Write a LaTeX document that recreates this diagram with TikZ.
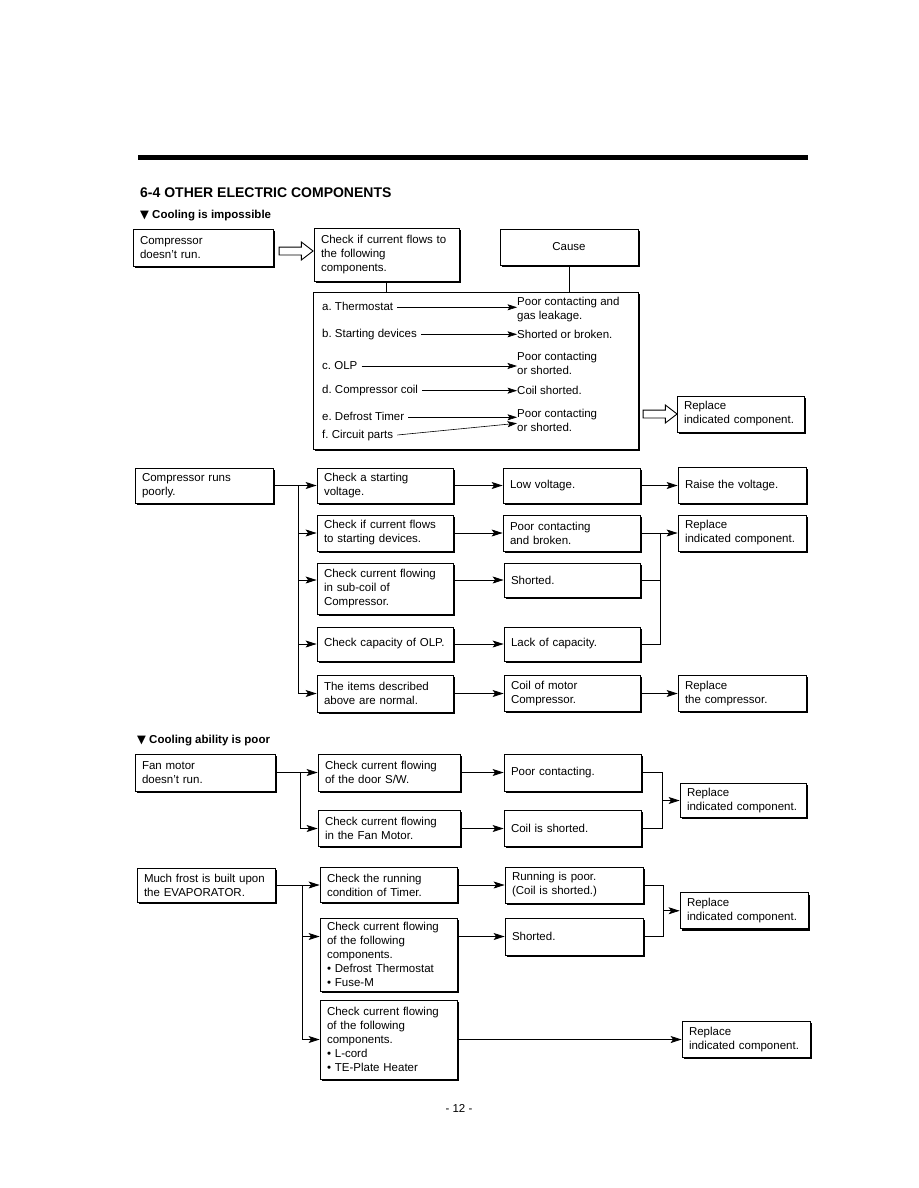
\documentclass[tikz,border=0pt]{standalone}
\usepackage{fontspec}
\setmainfont{Liberation Sans}
\newfontfamily\trifont{DejaVu Sans}
\usetikzlibrary{arrows.meta,calc,positioning,shapes.arrows,shadows}
\frenchspacing
\tikzset{
  cbox/.style={draw, line width=0.8pt, fill=white, drop shadow={shadow xshift=1.8pt, shadow yshift=-1.8pt, fill=black, opacity=1}, align=left, inner xsep=7pt, inner ysep=2pt, font=\fontsize{11.5}{14}\selectfont},
  hollow/.style={single arrow, draw, line width=0.9pt, fill=white, minimum height=34pt, inner sep=3.5pt, single arrow head extend=5pt, single arrow tip angle=75},
  flow/.style={-{Stealth[length=11pt,width=7pt,inset=2.5pt]}, line width=0.8pt},
  link/.style={line width=0.8pt},
  lead/.style={-{Stealth[length=9.5pt,width=6pt,inset=2pt]}, line width=0.6pt},
  entry/.style={inner sep=0pt, text height=8.5pt, text depth=2.5pt, font=\fontsize{11.5}{14}\selectfont, align=left},
  outcome/.style={inner sep=0pt, anchor=west, font=\fontsize{11.5}{14}\selectfont, align=left},
  head/.style={inner sep=0pt, anchor=base west, font=\bfseries\fontsize{11.5}{14}\selectfont}
}
\begin{document}
\begin{tikzpicture}[x=1pt, y=-1pt]
  \useasboundingbox (0,0) rectangle (918,1188);
  \draw[line width=5pt] (138,157.5) -- (808,157.5);
  \node[inner sep=0pt, anchor=base west, font=\bfseries\fontsize{14}{16}\selectfont] (title) at (140,197) {6-4 OTHER ELECTRIC COMPONENTS};
  \node[head] (hd1) at (140,218) {{\trifont ▼} Cooling is impossible};

  \node[cbox, text width=126pt, minimum height=37pt] (stop) at (203,247.5) {Compressor\\doesn't run.};
  \node[cbox, text width=131pt, minimum height=53pt] (check) at (386.5,254.5) {Check if current flows to\\the following\\components.};
  \node[cbox, text width=124pt, minimum height=36pt, align=center] (cause) at (569,247) {Cause};
  \node[cbox, minimum width=325pt, minimum height=157pt] (parts) at (475.5,370.5) {};
  \node[cbox, text width=113pt, minimum height=36pt] (fix1) at (740.5,414) {Replace\\indicated component.};
  \node[hollow] (h1) at ($(stop.east)!.5!(check.west)$) {};
  \node[hollow] (h2) at ($(parts.east |- fix1)!.5!(fix1.west)$) {};
  \draw[link] (check.south) -- (check.south |- parts.north);
  \draw[link] (cause.south) -- (cause.south |- parts.north);

  \node[entry, anchor=west] (ta) at (322,307.3) {a. Thermostat};
  \node[entry, anchor=west] (tb) at (322,334.3) {b. Starting devices};
  \node[entry, anchor=west] (tc) at (322,366) {c. OLP};
  \node[entry, anchor=west] (td) at (322,390.7) {d. Compressor coil};
  \node[entry, anchor=west] (te) at (322,417.3) {e. Defrost Timer};
  \node[entry, anchor=west] (tf) at (322,435) {f. Circuit parts};
  \node[outcome] (ra) at (517,309.7) {Poor contacting and\\gas leakage.};
  \node[outcome] (rb) at (517,334.3) {Shorted or broken.};
  \node[outcome] (rc) at (517,363.3) {Poor contacting\\or shorted.};
  \node[outcome] (rd) at (517,390.7) {Coil shorted.};
  \node[outcome] (re) at (517,420.3) {Poor contacting\\or shorted.};
  \draw[lead] ([xshift=4pt]ta.east) -- (ta.east -| ra.west);
  \draw[lead] ([xshift=4pt]tb.east) -- (tb.east -| rb.west);
  \draw[lead] ([xshift=4pt]tc.east) -- (tc.east -| rc.west);
  \draw[lead] ([xshift=4pt]td.east) -- (td.east -| rd.west);
  \draw[lead] ([xshift=4pt]te.east) -- (te.east -| re.west);
  \draw[lead] ([xshift=4pt]tf.east) -- ([yshift=-3pt]re.west);

  \node[cbox, text width=124pt, minimum height=35pt] (weak) at (204,485.5) {Compressor runs\\poorly.};
  \coordinate (sp) at (298,485.5);
  \node[cbox, text width=122pt, minimum height=35pt] (sv) at (385,485.5) {Check a starting\\voltage.};
  \node[cbox, text width=122pt, minimum height=36pt] (sd) at (385,533) {Check if current flows\\to starting devices.};
  \node[cbox, text width=122pt, minimum height=51pt] (sc) at (385,588.5) {Check current flowing\\in sub-coil of\\Compressor.};
  \node[cbox, text width=122pt, minimum height=34pt] (so) at (385,644) {Check capacity of OLP.};
  \node[cbox, text width=122pt, minimum height=37pt] (sn) at (385,693.5) {The items described\\above are normal.};
  \node[cbox, text width=123pt, minimum height=35pt] (lowv) at (571.5,485.5) {Low voltage.};
  \node[cbox, text width=123pt, minimum height=36pt] (bad) at (571.5,533) {Poor contacting\\and broken.};
  \node[cbox, text width=122pt, minimum height=34pt] (short) at (572,580) {Shorted.};
  \node[cbox, text width=122pt, minimum height=34pt] (lack) at (572,644) {Lack of capacity.};
  \node[cbox, text width=122pt, minimum height=36pt] (coil) at (572,693.5) {Coil of motor\\Compressor.};
  \node[cbox, text width=114pt, minimum height=36pt] (raise) at (742,485.5) {Raise the voltage.};
  \node[cbox, text width=114pt, minimum height=36pt] (fix2) at (742,533) {Replace\\indicated component.};
  \node[cbox, text width=114pt, minimum height=36pt] (fix3) at (742,693.5) {Replace\\the compressor.};
  \draw[flow] (weak) -- (sv);
  \draw[flow] (weak.east) -- (sp) |- (sn);
  \draw[flow] (sp |- sd) -- (sd);
  \draw[flow] (sp |- short) -- (sc.west |- short);
  \draw[flow] (sp |- so) -- (so);
  \draw[flow] (sv) -- (lowv);
  \draw[flow] (sd) -- (bad);
  \draw[flow] (sc.east |- short) -- (short);
  \draw[flow] (so) -- (lack);
  \draw[flow] (sn) -- (coil);
  \draw[flow] (lowv) -- (raise);
  \draw[flow] (bad) -- (fix2);
  \draw[flow] (coil) -- (fix3);
  \coordinate (jn) at ($(bad.east)!.55!(fix2.west)$);
  \draw[link] (short.east) -| (jn);
  \draw[link] (lack.east) -| (jn);

  \node[head] (hd2) at (137,743) {{\trifont ▼} Cooling ability is poor};
  \node[cbox, text width=126pt, minimum height=37pt] (fan) at (205,772.5) {Fan motor\\doesn't run.};
  \coordinate (fp) at (300,772.5);
  \node[cbox, text width=128pt, minimum height=37pt] (door) at (389,772.5) {Check current flowing\\of the door S/W.};
  \node[cbox, text width=128pt, minimum height=36pt] (fm) at (389,828.5) {Check current flowing\\in the Fan Motor.};
  \node[cbox, text width=123pt, minimum height=37pt] (poorc) at (572.5,772.5) {Poor contacting.};
  \node[cbox, text width=123pt, minimum height=36pt] (coilsh) at (572.5,828.5) {Coil is shorted.};
  \node[cbox, text width=112pt, minimum height=34pt] (fix4) at (743,800.5) {Replace\\indicated component.};
  \draw[flow] (fan) -- (door);
  \draw[flow] (fan.east) -- (fp) |- (fm);
  \draw[flow] (door) -- (poorc);
  \draw[flow] (fm) -- (coilsh);
  \coordinate (jf) at ($(poorc.east)!.5!(coilsh.east)+(21,0)$);
  \draw[link] (poorc.east) -| (jf) |- (coilsh.east);
  \draw[flow] (jf) -- (fix4);

  \node[cbox, text width=124pt, minimum height=34pt] (frost) at (206,885) {Much frost is built upon\\the EVAPORATOR.};
  \coordinate (rp) at (302,885);
  \node[cbox, text width=123pt, minimum height=35pt] (timer) at (388.5,885) {Check the running\\condition of Timer.};
  \node[cbox, text width=123pt, minimum height=73pt] (dt) at (388.5,954.5) {Check current flowing\\of the following\\components.\\• Defrost Thermostat\\• Fuse-M};
  \node[cbox, text width=123pt, minimum height=79pt] (lc) at (388.5,1039.5) {Check current flowing\\of the following\\components.\\• L-cord\\• TE-Plate Heater};
  \node[cbox, text width=124pt, minimum height=36pt] (run) at (574,885) {Running is poor.\\(Coil is shorted.)};
  \node[cbox, text width=124pt, minimum height=37pt] (sh2) at (574,936.5) {Shorted.};
  \node[cbox, text width=114pt, minimum height=36pt] (fix5) at (744,910.75) {Replace\\indicated component.};
  \node[cbox, text width=114pt, minimum height=36pt] (fix6) at (746,1039.5) {Replace\\indicated component.};
  \draw[flow] (frost) -- (timer);
  \draw[flow] (frost.east) -- (rp) |- (lc);
  \draw[flow] (rp |- sh2) -- (dt.west |- sh2);
  \draw[flow] (timer) -- (run);
  \draw[flow] (dt.east |- sh2) -- (sh2);
  \draw[flow] (lc) -- (fix6);
  \coordinate (jr) at ($(run.east)!.5!(sh2.east)+(20,0)$);
  \draw[link] (run.east) -| (jr) |- (sh2.east);
  \draw[flow] (jr) -- (fix5);

  \node[inner sep=0pt, font=\fontsize{11.5}{14}\selectfont] (pg) at (459,1108) {- 12 -};
\end{tikzpicture}
\end{document}
